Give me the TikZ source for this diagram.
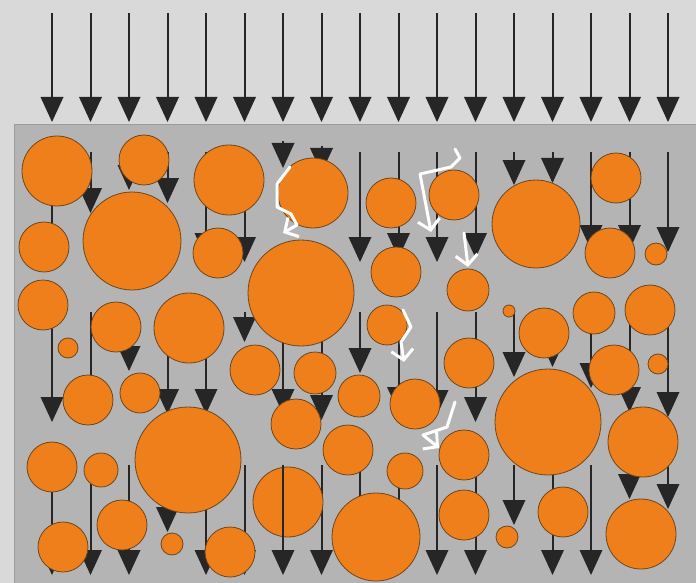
\documentclass[tikz,border=0pt]{standalone}
\usetikzlibrary{arrows.meta}
\definecolor{bgtop}{RGB}{217,217,217}
\definecolor{boxc}{RGB}{180,180,180}
\definecolor{boxedge}{RGB}{155,155,155}
\definecolor{darkc}{RGB}{38,38,38}
\definecolor{orangec}{RGB}{238,127,26}
\definecolor{rimc}{RGB}{110,70,30}
\begin{document}
\begin{tikzpicture}[x=1pt,y=-1pt,
  shaft/.style={draw=darkc,line width=2pt,-{Triangle[width=23pt,length=25pt,line width=0pt]}},
  grain/.style={fill=orangec,draw=rimc,line width=0.8pt},
  trace/.style={draw=white,line width=3pt,line join=round,line cap=round,-{Straight Barb[length=10pt,width=22pt]}}]
\useasboundingbox (0,0) rectangle (696,583);
\fill[bgtop] (0,0) rectangle (696,583);
% incoming arrows above the bed
\foreach \i in {0,...,16} \draw[shaft] ({52+38.5*\i},13) -- ({52+38.5*\i},122);
% bed
\fill[boxc] (14,125) rectangle (696,583);
\draw[boxedge,line width=1pt] (14,583) -- (14,125) -- (696,125);
% arrows inside the bed (column index / start / tip)
\foreach \i/\s/\t in {
  0/152/260, 1/152/213, 2/152/190, 3/152/203, 4/152/258, 5/152/262,
  6/141/168, 7/146/173, 8/152/262, 9/152/258, 10/152/262, 11/152/258,
  12/152/185, 13/152/183, 14/152/250, 15/152/250, 16/152/252,
  0/312/422, 1/312/415, 2/312/371, 3/312/414, 4/312/414, 5/312/342,
  6/312/414, 7/312/420, 8/312/373, 9/312/412, 10/312/415, 11/312/422,
  12/312/377, 13/312/367, 14/312/388, 15/312/412, 16/312/417,
  0/465/575, 1/465/575, 2/465/575, 3/465/532, 4/465/575, 5/465/575,
  7/465/575, 8/465/575, 9/465/575, 10/465/575, 11/465/575,
  12/465/525, 13/465/575, 14/465/575, 15/465/499, 16/465/509}
  \draw[shaft] ({52+38.5*\i},\s) -- ({52+38.5*\i},\t);
% grains
\foreach \x/\y/\r in {
  57/171/35, 144/160/25, 229/180/35, 313/193/35, 391/203/25, 454/195/25,
  536/224/44, 616/178/25, 44/247/25, 132/241/49, 218/253/25, 301/293/53,
  396/272/25, 468/290/21, 610/253/25, 656/254/11, 43/305/25, 116/327/25,
  189/328/35, 68/348/10, 387/325/20, 509/311/6, 544/333/25, 594/313/21,
  650/310/25, 88/400/25, 140/393/20, 255/370/25, 315/373/21, 359/396/21,
  415/404/25, 469/363/25, 614/370/25, 658/364/10, 188/460/53, 296/424/25,
  348/450/25, 464/455/25, 548/422/53, 643/442/35, 52/467/25, 101/470/17,
  405/471/18, 288/502/35, 122/525/25, 63/547/25, 172/544/11, 230/552/25,
  376/537/44, 464/515/25, 563/512/25, 507/537/11, 641/534/35}
  \filldraw[grain] (\x,\y) circle[radius=\r];
% one arrow passes in front of a grain
\draw[shaft] (283,465) -- (283,575);
% scattered paths
\draw[trace] (290,167) -- (277,184) -- (277,207) -- (291,214) -- (297,225) -- (283,233);
\draw[trace] (455,149) -- (460,158) -- (451,167) -- (420,174) -- (431,232);
\draw[trace] (464,233) -- (468,267);
\draw[trace] (403,310) -- (411,327) -- (401,342) -- (404,362);
\draw[trace] (455,402) -- (447,427) -- (423,435) -- (439,448);
\end{tikzpicture}
\end{document}
